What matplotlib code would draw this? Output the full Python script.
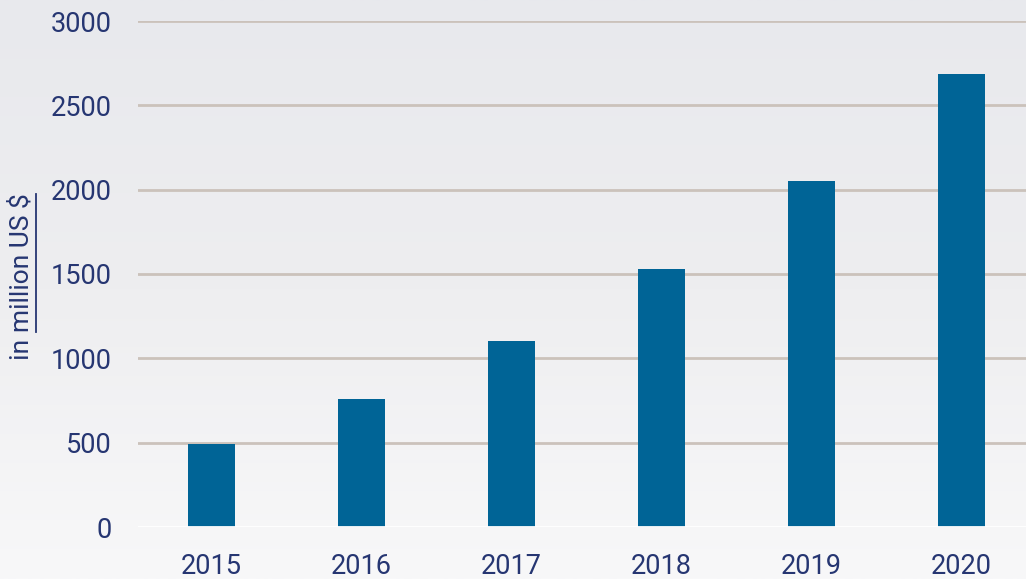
import matplotlib
matplotlib.use("Agg")
import matplotlib.pyplot as plt
import numpy as np
from matplotlib.colors import LinearSegmentedColormap

years = ["2015", "2016", "2017", "2018", "2019", "2020"]
values = [495, 760, 1105, 1530, 2050, 2685]
yticks = [0, 500, 1000, 1500, 2000, 2500, 3000]

navy = "#263672"
bar_color = "#006496"
grid_color = "#CBC2BB"

plt.rcParams['font.family'] = ['Roboto', 'DejaVu Sans']

fig = plt.figure(figsize=(10.26, 5.79), dpi=100)

# background gradient
bg = fig.add_axes([0, 0, 1, 1], zorder=-10)
grad = np.linspace(0, 1, 256).reshape(-1, 1)
cmap = LinearSegmentedColormap.from_list("bg", ["#E8E9ED", "#EEEEF0", "#F8F8F9"])
bg.imshow(grad, aspect="auto", cmap=cmap, extent=[0, 1, 0, 1], origin="upper")
bg.axis("off")

ax = fig.add_axes([138/1026, 1-527/579, 1-138/1026, (527-21)/579])
ax.patch.set_alpha(0)
x = np.arange(len(years))
ax.bar(x, values, width=0.315, color=bar_color, zorder=3)
ax.set_xlim(-0.49, 5.43)
ax.set_ylim(0, 3000)
ax.set_yticks(yticks)
ax.set_xticks(x)
ax.set_xticklabels(years)
for s in ax.spines.values():
    s.set_visible(False)
ax.tick_params(length=0, labelsize=19.5, colors=navy)
ax.tick_params(axis='y', pad=19)
ax.tick_params(axis='x', pad=19)
for t in yticks[1:]:
    ax.axhline(t, color=grid_color, lw=2, zorder=1)
ax.axhline(0, color="white", lw=2, zorder=4)

# y label with underline
fs = 19
lab1 = fig.text(34/1026, 1-360/579, "in ", rotation=90, fontsize=fs, color=navy,
                ha="right", va="bottom")
fig.canvas.draw()
ext = lab1.get_window_extent()
lab2 = fig.text(34/1026, ext.y1/579, "million US $", rotation=90, fontsize=fs,
                color=navy, ha="right", va="bottom")
fig.canvas.draw()
ext2 = lab2.get_window_extent()
fig.add_artist(plt.Line2D([36/1026, 36/1026], [ext2.y0/579, ext2.y1/579],
                          color=navy, lw=1.3, transform=fig.transFigure))

fig.savefig("out.png", dpi=100)
